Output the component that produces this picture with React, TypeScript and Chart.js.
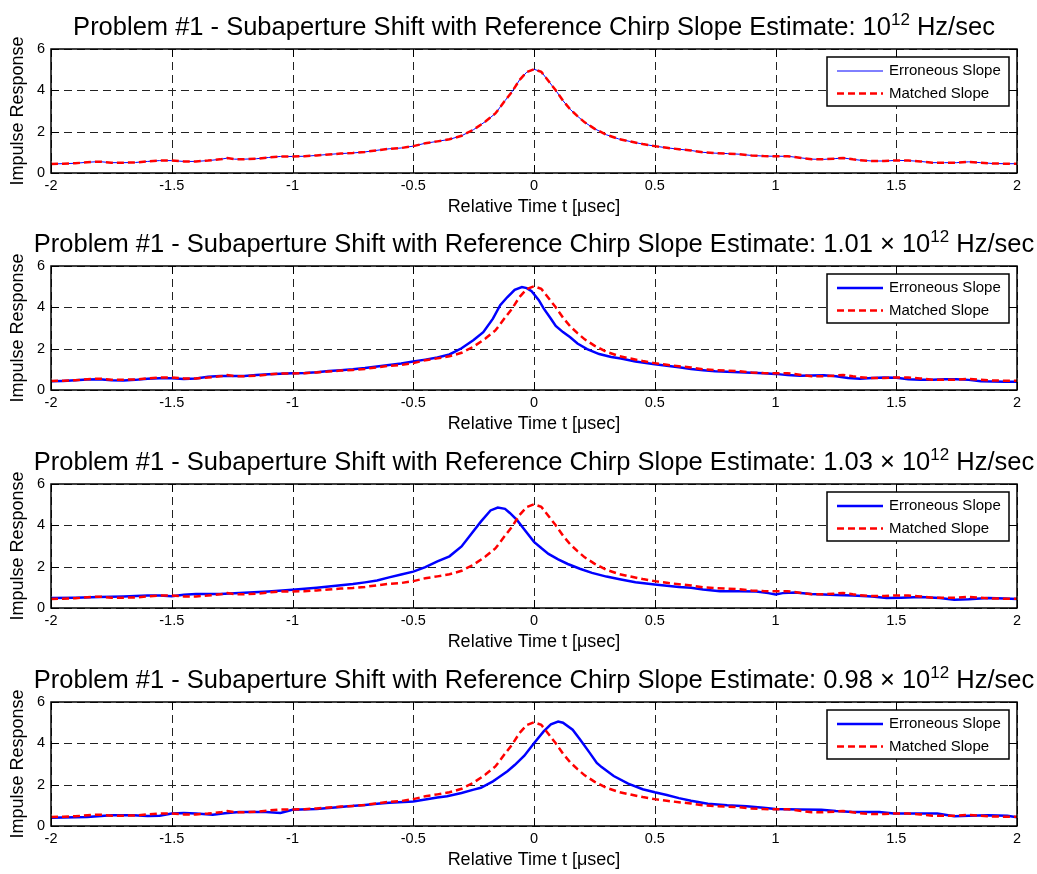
import React, { useEffect, useRef } from "react";
import { Chart, registerables } from "chart.js";

Chart.register(...registerables);

const FONT = '"Liberation Sans", Arial, Helvetica, sans-serif';

// Axis ticks shared by every panel
const xTicks = [-2, -1.5, -1, -0.5, 0, 0.5, 1, 1.5, 2];
const xTickLabels = ["-2", "-1.5", "-1", "-0.5", "0", "0.5", "1", "1.5", "2"];
const yTicks = [0, 2, 4, 6];
const yTickLabels = ["0", "2", "4", "6"];

// Reference chirp slope estimate per panel (x 10^12 Hz/sec); "" means exactly 10^12
const slopeFactors = ["", "1.01", "1.03", "0.98"];
const seriesNames = ["Erroneous Slope", "Matched Slope"];

// [relative time (usec), impulse response] — matched reference slope
const matchedSlope: [number, number][] = [
  [-2, 0.44], [-1.95, 0.45], [-1.9, 0.47], [-1.85, 0.52], [-1.8, 0.55], [-1.75, 0.5],
  [-1.7, 0.5], [-1.65, 0.51], [-1.6, 0.56], [-1.55, 0.6], [-1.5, 0.6], [-1.45, 0.56],
  [-1.4, 0.56], [-1.35, 0.6], [-1.3, 0.66], [-1.27, 0.72], [-1.24, 0.67], [-1.2, 0.67],
  [-1.15, 0.69], [-1.1, 0.75], [-1.05, 0.8], [-1, 0.8], [-0.95, 0.81], [-0.9, 0.85],
  [-0.85, 0.9], [-0.8, 0.94], [-0.75, 0.97], [-0.7, 1.02], [-0.65, 1.1], [-0.6, 1.17],
  [-0.55, 1.21], [-0.5, 1.3], [-0.45, 1.44], [-0.4, 1.53], [-0.35, 1.63], [-0.3, 1.8],
  [-0.25, 2.1], [-0.2, 2.5], [-0.16, 2.88], [-0.12, 3.5], [-0.09, 3.95], [-0.06, 4.5],
  [-0.03, 4.88], [0, 5.02], [0.03, 4.9], [0.06, 4.45], [0.09, 4.0], [0.12, 3.5],
  [0.15, 3.08], [0.18, 2.75], [0.21, 2.45], [0.25, 2.15], [0.3, 1.85], [0.35, 1.65],
  [0.4, 1.52], [0.45, 1.4], [0.5, 1.3], [0.55, 1.22], [0.6, 1.15], [0.65, 1.09],
  [0.7, 1.0], [0.75, 0.96], [0.8, 0.94], [0.85, 0.91], [0.9, 0.85], [0.95, 0.82],
  [1, 0.81], [1.05, 0.81], [1.1, 0.74], [1.15, 0.67], [1.2, 0.66], [1.25, 0.7],
  [1.28, 0.73], [1.32, 0.66], [1.35, 0.62], [1.4, 0.58], [1.45, 0.58], [1.5, 0.61],
  [1.55, 0.6], [1.6, 0.56], [1.65, 0.5], [1.7, 0.5], [1.75, 0.5], [1.8, 0.54],
  [1.85, 0.5], [1.9, 0.46], [1.95, 0.45], [2, 0.45],
];

// Erroneous slope at 1.01 x 10^12 Hz/sec
const erroneous101: [number, number][] = [
  [-2, 0.42], [-1.95, 0.44], [-1.9, 0.47], [-1.85, 0.51], [-1.8, 0.52], [-1.75, 0.47],
  [-1.7, 0.46], [-1.65, 0.49], [-1.6, 0.55], [-1.55, 0.57], [-1.5, 0.57], [-1.45, 0.53],
  [-1.4, 0.56], [-1.35, 0.64], [-1.3, 0.68], [-1.25, 0.68], [-1.2, 0.68], [-1.15, 0.72],
  [-1.1, 0.76], [-1.05, 0.79], [-1, 0.81], [-0.95, 0.82], [-0.9, 0.86], [-0.85, 0.92],
  [-0.8, 0.96], [-0.75, 1.0], [-0.7, 1.06], [-0.65, 1.14], [-0.6, 1.21], [-0.55, 1.28],
  [-0.5, 1.38], [-0.45, 1.47], [-0.4, 1.57], [-0.35, 1.72], [-0.3, 2.02], [-0.25, 2.42],
  [-0.21, 2.8], [-0.17, 3.45], [-0.14, 4.1], [-0.11, 4.5], [-0.08, 4.85], [-0.05, 4.98],
  [-0.03, 4.93], [-0.01, 4.78], [0.02, 4.35], [0.04, 3.95], [0.07, 3.45], [0.09, 3.1],
  [0.12, 2.8], [0.15, 2.55], [0.18, 2.25], [0.22, 1.98], [0.27, 1.74], [0.32, 1.6],
  [0.36, 1.52], [0.42, 1.38], [0.5, 1.25], [0.55, 1.17], [0.6, 1.1], [0.65, 1.02],
  [0.7, 0.96], [0.75, 0.91], [0.8, 0.88], [0.85, 0.86], [0.9, 0.84], [0.95, 0.81],
  [1, 0.78], [1.05, 0.72], [1.1, 0.69], [1.15, 0.7], [1.2, 0.71], [1.25, 0.66],
  [1.3, 0.58], [1.35, 0.55], [1.4, 0.58], [1.45, 0.6], [1.5, 0.59], [1.55, 0.52],
  [1.6, 0.49], [1.65, 0.49], [1.7, 0.52], [1.75, 0.52], [1.8, 0.49], [1.85, 0.42],
  [1.9, 0.41], [1.95, 0.4], [2, 0.4],
];

// Erroneous slope at 1.03 x 10^12 Hz/sec
const erroneous103: [number, number][] = [
  [-2, 0.48], [-1.9, 0.5], [-1.8, 0.53], [-1.7, 0.56], [-1.6, 0.6], [-1.55, 0.6],
  [-1.5, 0.57], [-1.45, 0.64], [-1.4, 0.68], [-1.3, 0.68], [-1.2, 0.74], [-1.1, 0.8],
  [-1, 0.88], [-0.95, 0.93], [-0.9, 0.98], [-0.85, 1.04], [-0.8, 1.1], [-0.75, 1.16],
  [-0.7, 1.24], [-0.65, 1.33], [-0.6, 1.48], [-0.55, 1.62], [-0.5, 1.76], [-0.45, 1.98],
  [-0.4, 2.26], [-0.35, 2.5], [-0.3, 2.98], [-0.26, 3.58], [-0.22, 4.18], [-0.18, 4.72],
  [-0.15, 4.86], [-0.12, 4.8], [-0.1, 4.6], [-0.07, 4.25], [-0.04, 3.8], [0, 3.2],
  [0.03, 2.9], [0.06, 2.62], [0.1, 2.35], [0.14, 2.13], [0.19, 1.9], [0.24, 1.7],
  [0.3, 1.52], [0.36, 1.38], [0.42, 1.25], [0.5, 1.14], [0.55, 1.08], [0.6, 1.02],
  [0.65, 0.98], [0.7, 0.9], [0.77, 0.81], [0.85, 0.81], [0.92, 0.8], [0.97, 0.72],
  [1, 0.66], [1.03, 0.72], [1.08, 0.75], [1.15, 0.68], [1.2, 0.65], [1.25, 0.63],
  [1.32, 0.6], [1.4, 0.56], [1.46, 0.48], [1.52, 0.5], [1.6, 0.53], [1.68, 0.48],
  [1.74, 0.4], [1.8, 0.42], [1.88, 0.48], [1.95, 0.46], [2, 0.44],
];

// Erroneous slope at 0.98 x 10^12 Hz/sec
const erroneous098: [number, number][] = [
  [-2, 0.4], [-1.9, 0.42], [-1.85, 0.44], [-1.75, 0.52], [-1.66, 0.52], [-1.6, 0.48],
  [-1.55, 0.5], [-1.5, 0.6], [-1.45, 0.63], [-1.4, 0.6], [-1.33, 0.55], [-1.28, 0.62],
  [-1.22, 0.68], [-1.11, 0.68], [-1.05, 0.63], [-1, 0.79], [-0.9, 0.82], [-0.8, 0.92],
  [-0.77, 0.95], [-0.7, 1.02], [-0.65, 1.08], [-0.6, 1.12], [-0.5, 1.19], [-0.45, 1.28],
  [-0.4, 1.38], [-0.36, 1.44], [-0.3, 1.6], [-0.25, 1.76], [-0.22, 1.85], [-0.17, 2.16],
  [-0.15, 2.32], [-0.11, 2.65], [-0.08, 2.95], [-0.04, 3.4], [0, 4.0], [0.04, 4.58],
  [0.07, 4.92], [0.1, 5.05], [0.12, 5.0], [0.16, 4.66], [0.19, 4.2], [0.23, 3.55],
  [0.26, 3.05], [0.28, 2.85], [0.33, 2.42], [0.39, 2.05], [0.45, 1.78], [0.5, 1.63],
  [0.55, 1.5], [0.6, 1.35], [0.65, 1.22], [0.72, 1.08], [0.8, 1.0], [0.88, 0.95],
  [0.95, 0.88], [1, 0.82], [1.1, 0.8], [1.19, 0.79], [1.25, 0.73], [1.32, 0.68],
  [1.43, 0.68], [1.49, 0.6], [1.6, 0.6], [1.67, 0.6], [1.74, 0.47], [1.8, 0.5],
  [1.88, 0.52], [1.96, 0.5], [2, 0.42],
];

// At the exact slope the erroneous and matched responses coincide
const erroneousSeries = [matchedSlope, erroneous101, erroneous103, erroneous098];

const PANEL_TOPS = [0, 217, 435, 653];
const CANVAS_W = 1037;
const CANVAS_H = 218;
const PLOT_TOP = 49;

const toPoints = (pairs: [number, number][]) => pairs.map(([x, y]) => ({ x, y }));

function framePlugin(index: number, thinErr: boolean) {
  return {
    id: "frame" + index,
    beforeDatasetsDraw(chart: any) {
      const { ctx, chartArea, scales } = chart;
      const { left, right, top, bottom } = chartArea;
      ctx.save();
      ctx.strokeStyle = "#222";
      ctx.lineWidth = 1;
      ctx.setLineDash([8, 5]);
      for (const v of xTicks) {
        const px = Math.round(scales.x.getPixelForValue(v)) + 0.5;
        ctx.beginPath();
        ctx.moveTo(px, top);
        ctx.lineTo(px, bottom);
        ctx.stroke();
      }
      for (const v of yTicks) {
        const py = Math.round(scales.y.getPixelForValue(v)) + 0.5;
        ctx.beginPath();
        ctx.moveTo(left, py);
        ctx.lineTo(right, py);
        ctx.stroke();
      }
      ctx.restore();
    },
    afterDatasetsDraw(chart: any) {
      const { ctx, chartArea, scales } = chart;
      const { left, right, top, bottom } = chartArea;
      ctx.save();
      // inward tick marks on all four sides
      ctx.strokeStyle = "#000";
      ctx.lineWidth = 1;
      ctx.setLineDash([]);
      const tl = 8;
      for (const v of xTicks) {
        const px = Math.round(scales.x.getPixelForValue(v)) + 0.5;
        ctx.beginPath();
        ctx.moveTo(px, bottom);
        ctx.lineTo(px, bottom - tl);
        ctx.moveTo(px, top);
        ctx.lineTo(px, top + tl);
        ctx.stroke();
      }
      for (const v of yTicks) {
        const py = Math.round(scales.y.getPixelForValue(v)) + 0.5;
        ctx.beginPath();
        ctx.moveTo(left, py);
        ctx.lineTo(left + tl, py);
        ctx.moveTo(right, py);
        ctx.lineTo(right - tl, py);
        ctx.stroke();
      }
      // axes box
      ctx.lineWidth = 1.5;
      ctx.strokeRect(left, top, right - left, bottom - top);

      // legend
      const lw = 182;
      const lh = 49;
      const lx = right - 8 - lw;
      const ly = top + 8;
      ctx.fillStyle = "#fff";
      ctx.fillRect(lx, ly, lw, lh);
      ctx.lineWidth = 1.5;
      ctx.strokeStyle = "#000";
      ctx.strokeRect(lx, ly, lw, lh);
      const rows = [ly + 14, ly + 36.5];
      const styles = [
        { color: "#0000ff", width: thinErr ? 1 : 2.5, dash: [] as number[] },
        { color: "#ff0000", width: 2.5, dash: [7, 4] },
      ];
      ctx.font = `15px ${FONT}`;
      ctx.textBaseline = "middle";
      ctx.textAlign = "left";
      rows.forEach((ry, i) => {
        ctx.beginPath();
        ctx.strokeStyle = styles[i].color;
        ctx.lineWidth = styles[i].width;
        ctx.setLineDash(styles[i].dash);
        ctx.moveTo(lx + 10, ry);
        ctx.lineTo(lx + 56, ry);
        ctx.stroke();
        ctx.fillStyle = "#000";
        ctx.fillText(seriesNames[i], lx + 62, ry);
      });
      ctx.setLineDash([]);

      // title with superscript exponent
      const factor = slopeFactors[index];
      const main =
        "Problem #1 - Subaperture Shift with Reference Chirp Slope Estimate: " +
        (factor ? factor + " \u00d7 " : "") +
        "10";
      const sup = "12";
      const tail = " Hz/sec";
      ctx.textBaseline = "alphabetic";
      ctx.fillStyle = "#000";
      ctx.font = `25.5px ${FONT}`;
      const w1 = ctx.measureText(main).width;
      const w3 = ctx.measureText(tail).width;
      ctx.font = `17px ${FONT}`;
      const w2 = ctx.measureText(sup).width;
      let tx = (left + right) / 2 - (w1 + w2 + w3) / 2;
      const by = top - 14;
      ctx.font = `25.5px ${FONT}`;
      ctx.fillText(main, tx, by);
      tx += w1;
      ctx.font = `17px ${FONT}`;
      ctx.fillText(sup, tx, by - 10);
      tx += w2;
      ctx.font = `25.5px ${FONT}`;
      ctx.fillText(tail, tx, by);
      ctx.restore();
    },
  };
}

function Panel({ index }: { index: number }) {
  const ref = useRef<HTMLCanvasElement>(null);
  useEffect(() => {
    const canvas = ref.current;
    if (!canvas) return;
    const thinErr = index === 0;
    const chart = new Chart(canvas, {
      type: "line",
      data: {
        datasets: [
          {
            label: seriesNames[0],
            data: toPoints(erroneousSeries[index]),
            borderColor: "#0000ff",
            borderWidth: thinErr ? 1 : 2.5,
            pointRadius: 0,
            tension: 0,
            fill: false,
            order: 1,
          },
          {
            label: seriesNames[1],
            data: toPoints(matchedSlope),
            borderColor: "#ff0000",
            borderWidth: 2.5,
            borderDash: [7, 4],
            pointRadius: 0,
            tension: 0,
            fill: false,
            order: 0,
          },
        ],
      },
      options: {
        animation: false,
        responsive: false,
        events: [],
        layout: { padding: { top: PLOT_TOP, right: 20, left: 0, bottom: 0 } },
        plugins: {
          legend: { display: false },
          tooltip: { enabled: false },
          title: { display: false },
        },
        scales: {
          x: {
            type: "linear",
            min: -2,
            max: 2,
            afterBuildTicks: (s: any) => {
              s.ticks = xTicks.map((v) => ({ value: v }));
            },
            afterFit: (s: any) => {
              s.height = 45;
            },
            grid: { display: false, drawTicks: false },
            border: { display: false },
            ticks: {
              callback: (_v: any, i: number) => xTickLabels[i],
              font: { family: FONT, size: 14.5 },
              color: "#000",
              padding: 4,
              maxRotation: 0,
              autoSkip: false,
            },
            title: {
              display: true,
              text: "Relative Time t [\u03bcsec]",
              font: { family: FONT, size: 18 },
              color: "#000",
              padding: { top: 0, bottom: 0 },
            },
          },
          y: {
            type: "linear",
            min: 0,
            max: 6,
            afterBuildTicks: (s: any) => {
              s.ticks = yTicks.map((v) => ({ value: v }));
            },
            afterFit: (s: any) => {
              s.width = 51;
            },
            grid: { display: false, drawTicks: false },
            border: { display: false },
            ticks: {
              callback: (_v: any, i: number) => yTickLabels[i],
              font: { family: FONT, size: 14.5 },
              color: "#000",
              padding: 6,
            },
            title: {
              display: true,
              text: "Impulse Response",
              font: { family: FONT, size: 18 },
              color: "#000",
              padding: { top: 7, bottom: 0 },
            },
          },
        },
      } as any,
      plugins: [framePlugin(index, thinErr)],
    });
    return () => chart.destroy();
  }, [index]);
  return (
    <canvas
      ref={ref}
      width={CANVAS_W}
      height={CANVAS_H}
      style={{ position: "absolute", left: 0, top: PANEL_TOPS[index], display: "block" }}
    />
  );
}

export default function App() {
  return (
    <div
      style={{
        position: "absolute",
        left: 0,
        top: 0,
        width: CANVAS_W,
        height: 874,
        background: "#fff",
      }}
    >
      {[0, 1, 2, 3].map((i) => (
        <Panel key={i} index={i} />
      ))}
    </div>
  );
}
